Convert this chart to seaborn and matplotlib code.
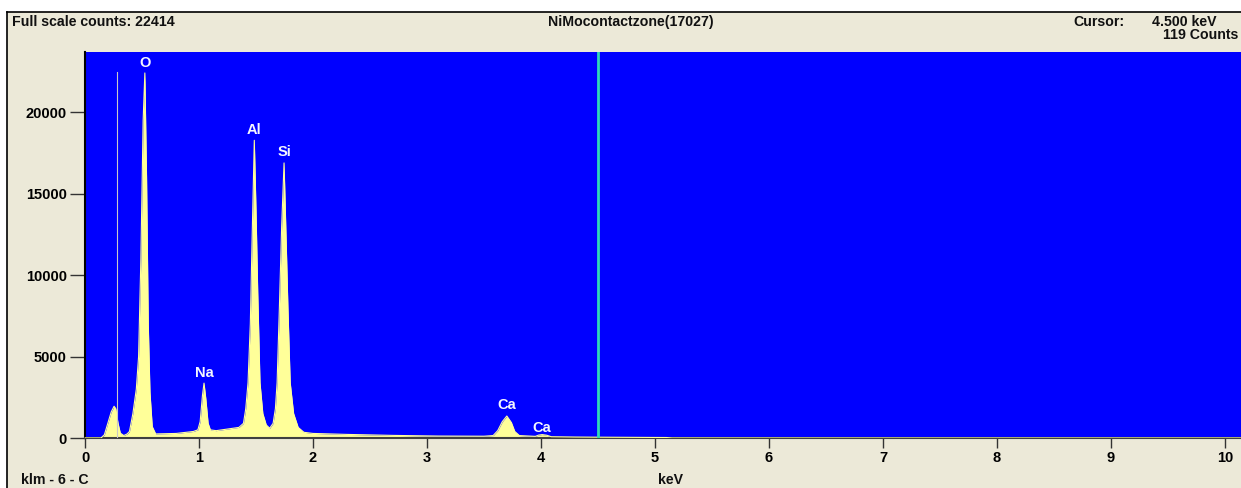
import matplotlib
matplotlib.use("Agg")
import matplotlib.pyplot as plt
import seaborn as sns
import numpy as np
import pandas as pd
from matplotlib.lines import Line2D

# ---- data ----
energy_kev = [0.00, 0.14, 0.17, 0.20, 0.23, 0.255, 0.27, 0.29, 0.31, 0.34, 0.37,
              0.39, 0.42, 0.45, 0.47, 0.49, 0.51, 0.525, 0.54, 0.555, 0.57, 0.59, 0.62,
              0.80, 0.95, 0.99, 1.01, 1.03, 1.044, 1.06, 1.08, 1.10, 1.15,
              1.25, 1.35, 1.39, 1.41, 1.43, 1.45, 1.465, 1.485, 1.50, 1.515, 1.535,
              1.56, 1.59, 1.62, 1.65, 1.67, 1.685, 1.705, 1.725, 1.746, 1.765, 1.78,
              1.80, 1.83, 1.87, 1.92, 2.00, 2.30, 2.70, 3.10, 3.50,
              3.58, 3.62, 3.66, 3.70, 3.74, 3.77, 3.81, 3.95, 3.98, 4.01, 4.05, 4.09,
              4.30, 4.50, 4.80, 5.10, 5.15, 10.14]
counts = [0, 0, 200, 900, 1600, 1950, 1800, 900, 300, 150, 250,
          400, 1500, 3000, 5000, 11000, 19500, 22414, 16000, 7000, 2800, 700, 250,
          280, 400, 500, 1000, 2600, 3370, 2400, 900, 500, 450,
          550, 650, 900, 1800, 3400, 7000, 12000, 18280, 14000, 9000, 3400,
          1500, 800, 600, 900, 1800, 3400, 8000, 13000, 16890, 12000, 8000,
          3400, 1500, 650, 350, 280, 220, 160, 120, 110,
          150, 450, 1000, 1350, 950, 400, 150, 100, 180, 210, 170, 80,
          60, 50, 40, 30, 0, 0]

peak_labels = ["O", "Na", "Al", "Si", "Ca", "Ca"]
peak_label_kev = [0.525, 1.044, 1.485, 1.746, 3.70, 4.01]
peak_label_counts = [23050, 3990, 18900, 17550, 2030, 620]

x_ticks = [0, 1, 2, 3, 4, 5, 6, 7, 8, 9, 10]
y_ticks = [0, 5000, 10000, 15000, 20000]

marker_kev = 0.277          # klm - 6 - C marker
marker_height = 22500
cursor_kev = 4.5

title = "NiMocontactzone(17027)"
header_left = "Full scale counts: 22414"
cursor_label = "Cursor:"
cursor_value = "4.500 keV"
cursor_counts = "119 Counts"
x_label = "keV"
klm_label = "klm - 6 - C"

# ---- styling ----
BEIGE = "#ECE9D8"
BLUE = "#0000FF"
YELLOW = "#FFFF99"
CURSOR = "#30D8B8"
FONT = ["Liberation Sans", "DejaVu Sans"]

plt.rcParams["font.family"] = FONT
plt.rcParams["font.weight"] = "bold"

W, H = 1241, 488
fig = plt.figure(figsize=(W / 100, H / 100), dpi=100, facecolor="white")

# beige panel with black border top/left
fig.patches.append(plt.Rectangle((7 / W, 0), 1, 1 - 12 / H, transform=fig.transFigure,
                                 facecolor=BEIGE, edgecolor="none", zorder=-10))
fig.add_artist(Line2D([7 / W, 1], [1 - 12 / H, 1 - 12 / H], transform=fig.transFigure,
                      color="black", lw=1.2))
fig.add_artist(Line2D([7 / W, 7 / W], [0, 1 - 12 / H], transform=fig.transFigure,
                      color="black", lw=1.2))

left, right, top, bottom = 85, 1241, 52, 438
ax = fig.add_axes([left / W, 1 - bottom / H, (right - left) / W, (bottom - top) / H])
ax.set_facecolor(BLUE)

df = pd.DataFrame({"energy": energy_kev, "counts": counts})
ax.fill_between(df["energy"], 0, df["counts"], color=YELLOW, lw=0, zorder=2)
sns.lineplot(data=df, x="energy", y="counts", ax=ax, color=YELLOW, lw=0.8,
             estimator=None, sort=False, zorder=3)

# C marker line and cursor
ax.plot([marker_kev, marker_kev], [0, marker_height], color="#C8C8C8", lw=0.8, zorder=4)
ax.axvline(cursor_kev, color=CURSOR, lw=2, zorder=5)

for lab, xk, yc in zip(peak_labels, peak_label_kev, peak_label_counts):
    ax.text(xk, yc, lab, color="#F4F6FF", fontsize=10.5, fontweight="bold",
            ha="center", va="center", zorder=6)

ax.set_xlim(0, 10.14)
ax.set_ylim(0, 23700)
ax.set_xticks(x_ticks)
ax.set_yticks(y_ticks)
ax.set_xticklabels([str(t) for t in x_ticks])
ax.set_yticklabels([str(t) for t in y_ticks])
ax.tick_params(axis="x", direction="out", length=7, width=1, color="#333333",
               labelsize=10.5, pad=2)
ax.tick_params(axis="y", direction="out", length=11, width=1, color="#333333",
               labelsize=10.5, pad=2)
for lbl in ax.get_xticklabels() + ax.get_yticklabels():
    lbl.set_fontweight("bold")
ax.set_xlabel("")
ax.set_ylabel("")
for side in ["top", "right"]:
    ax.spines[side].set_visible(False)
ax.spines["left"].set_color("black")
ax.spines["left"].set_linewidth(1.5)
ax.spines["bottom"].set_color("#404040")
ax.spines["bottom"].set_linewidth(1.5)

def ftext(px, py, s, ha="left", **kw):
    fig.text(px / W, 1 - py / H, s, ha=ha, va="center", fontsize=10.2,
             fontweight="bold", color="#111111", **kw)

ftext(12, 22, header_left)
ftext(631, 22, title, ha="center")
ftext(1073, 22, cursor_label)
ftext(1152, 22, cursor_value)
ftext(1163, 35, cursor_counts)
ftext(670, 480, x_label, ha="center")
ftext(21, 480, klm_label)

fig.savefig("out.png", dpi=100, facecolor=fig.get_facecolor())
